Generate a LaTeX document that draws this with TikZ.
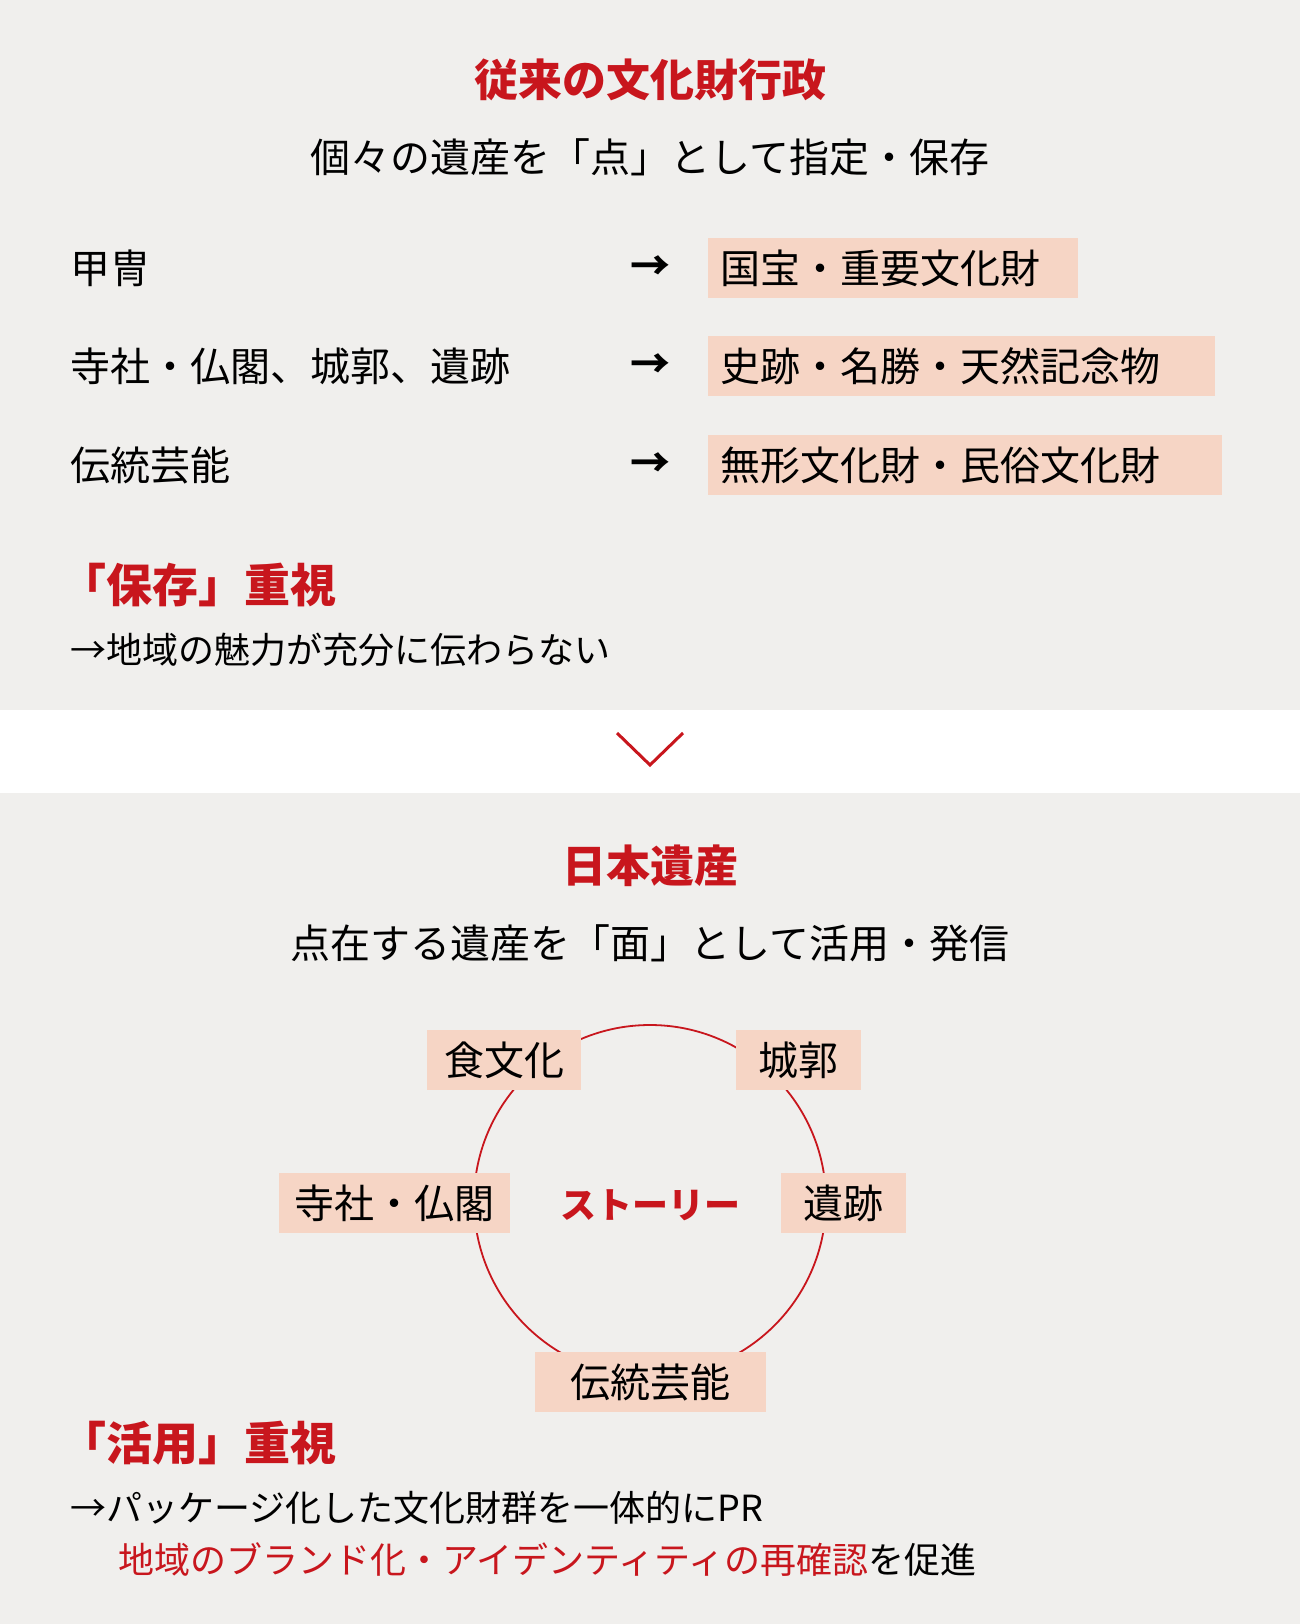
\documentclass[tikz,border=0pt]{standalone}
\usepackage{fontspec}
\newfontfamily\jp{Noto Sans CJK JP}
\definecolor{bg}{HTML}{F0EFED}
\definecolor{rd}{HTML}{C8161D}
\definecolor{pk}{HTML}{F6D5C5}
\begin{document}
\begin{tikzpicture}[x=1pt,y=-1pt,
  t/.style={font=\jp\fontsize{40}{42}\selectfont,inner sep=0pt},
  ttl/.style={font=\jp\bfseries\fontsize{44}{46}\selectfont,text=rd,inner sep=0pt},
  hl/.style={fill=pk,font=\jp\fontsize{40}{42}\selectfont,inner xsep=12pt,inner ysep=0pt,minimum height=60pt,anchor=west,align=left},
  lab/.style={fill=pk,font=\jp\fontsize{40}{42}\selectfont,inner sep=0pt,minimum height=60pt}]
\useasboundingbox (0,0) rectangle (1300,1624);
\fill[bg] (0,0) rectangle (1300,710);
\fill[bg] (0,793) rectangle (1300,1624);
\node[ttl] (h1) at (650,80) {従来の文化財行政};
\node[t] (s1) at (650,157) {個々の遺産を「点」として指定・保存};
\node[t,anchor=west] (l1) at (70,268) {甲冑};
\node[t,anchor=west] (l2) at (70,366) {寺社・仏閣、城郭、遺跡};
\node[t,anchor=west] (l3) at (70,465) {伝統芸能};
\node[t,font=\jp\bfseries\fontsize{40}{42}\selectfont] (a1) at (650,268) {→};
\node[t,font=\jp\bfseries\fontsize{40}{42}\selectfont] (a2) at (650,366) {→};
\node[t,font=\jp\bfseries\fontsize{40}{42}\selectfont] (a3) at (650,465) {→};
\node[hl,text width=346pt] (r1) at (708,268) {国宝・重要文化財};
\node[hl,text width=483pt] (r2) at (708,366) {史跡・名勝・天然記念物};
\node[hl,text width=490pt] (r3) at (708,465) {無形文化財・民俗文化財};
\node[ttl,anchor=west,font=\jp\bfseries\fontsize{46}{48}\selectfont] (p1) at (60,585) {「保存」重視};
\node[t,anchor=west,font=\jp\fontsize{36}{38}\selectfont] (p2) at (70,650) {→地域の魅力が充分に伝わらない};
\coordinate (c1) at (617,733); \coordinate (c2) at (650,765); \coordinate (c3) at (683,733);
\draw[rd,line width=3pt] (c1) -- (c2) -- (c3);
\node[ttl] (h2) at (650,866) {日本遺産};
\node[t] (s2) at (650,943) {点在する遺産を「面」として活用・発信};
\node[draw=rd,line width=1.8pt,circle,minimum size=352pt,inner sep=0pt] (cir) at (650,1201) {};
\node[lab,minimum width=154pt] (b1) at (504,1060) {食文化};
\node[lab,minimum width=125pt] (b2) at (798,1060) {城郭};
\node[lab,minimum width=231pt] (b3) at (394,1203) {寺社・仏閣};
\node[lab,minimum width=125pt] (b4) at (843,1203) {遺跡};
\node[lab,minimum width=231pt] (b5) at (650,1382) {伝統芸能};
\node[ttl,font=\jp\bfseries\fontsize{36}{38}\selectfont] (st) at (650,1205) {ストーリー};
\node[ttl,anchor=west,font=\jp\bfseries\fontsize{46}{48}\selectfont] (q1) at (60,1443) {「活用」重視};
\node[t,anchor=west,font=\jp\fontsize{36}{38}\selectfont] (q2) at (70,1508) {→パッケージ化した文化財群を一体的にPR};
\node[t,anchor=west,font=\jp\fontsize{36}{38}\selectfont] (q3) at (118,1560) {\textcolor{rd}{地域のブランド化・アイデンティティの再確認}を促進};
\end{tikzpicture}
\end{document}
